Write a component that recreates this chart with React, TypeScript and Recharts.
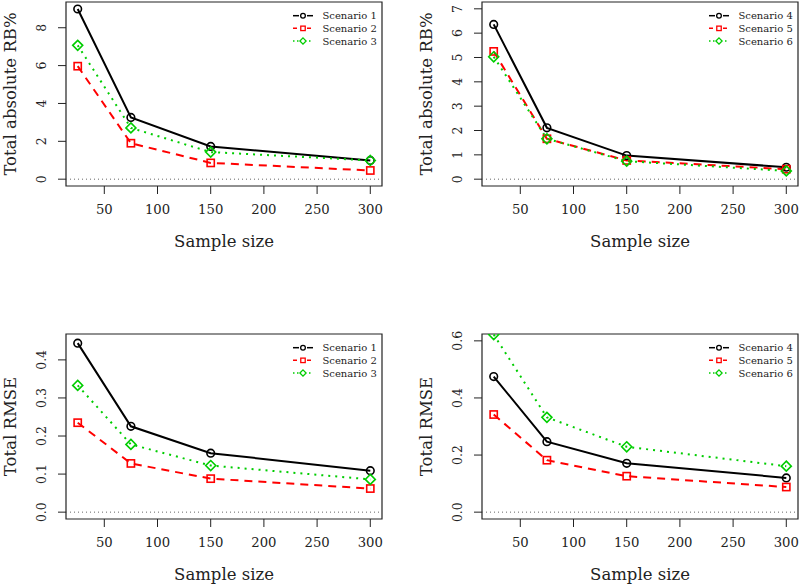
import React from 'react';
import { LineChart, Line, XAxis, YAxis, ReferenceLine, ReferenceArea, Legend } from 'recharts';

const FONT = "'DejaVu Serif', serif";
const INK = '#222';

// ---- data ----
const sampleSizes = [25, 75, 150, 300];
const xTicks = [50, 100, 150, 200, 250, 300];

const namesLeft = ['Scenario 1', 'Scenario 2', 'Scenario 3'];
const namesRight = ['Scenario 4', 'Scenario 5', 'Scenario 6'];

const rbScenario1 = [8.99, 3.26, 1.73, 0.99];
const rbScenario2 = [5.97, 1.9, 0.86, 0.46];
const rbScenario3 = [7.07, 2.71, 1.43, 0.99];
const rbScenario4 = [6.36, 2.11, 0.97, 0.49];
const rbScenario5 = [5.25, 1.66, 0.77, 0.41];
const rbScenario6 = [5.03, 1.66, 0.74, 0.34];

const rmseScenario1 = [0.444, 0.2255, 0.155, 0.109];
const rmseScenario2 = [0.235, 0.128, 0.088, 0.062];
const rmseScenario3 = [0.333, 0.178, 0.1225, 0.086];
const rmseScenario4 = [0.475, 0.247, 0.171, 0.12];
const rmseScenario5 = [0.342, 0.182, 0.126, 0.088];
const rmseScenario6 = [0.622, 0.332, 0.229, 0.161];

const rbTicksLeft = [0, 2, 4, 6, 8];
const rbTicksRight = [0, 1, 2, 3, 4, 5, 6, 7];
const rmseTicksLeft = [0, 0.1, 0.2, 0.3, 0.4];
const rmseTicksRight = [0, 0.2, 0.4, 0.6];

// ---- styles ----
const seriesStyles = [
  { color: '#000000', dash: undefined as string | undefined, marker: 'circle', legendDash: undefined as string | undefined },
  { color: '#FF0000', dash: '8 6', marker: 'square', legendDash: '4 3' },
  { color: '#00CD00', dash: '2 5', marker: 'diamond', legendDash: '1.5 2.5' },
];

function Marker({ kind, cx, cy, color, scale = 1, sw = 1.6 }: any) {
  if (cx == null || cy == null) return null;
  if (kind === 'circle') {
    return <circle cx={cx} cy={cy} r={3.8 * scale} fill="none" stroke={color} strokeWidth={sw} />;
  }
  if (kind === 'square') {
    const h = 3.6 * scale;
    return <rect x={cx - h} y={cy - h} width={2 * h} height={2 * h} fill="none" stroke={color} strokeWidth={sw} />;
  }
  const d = 5 * scale;
  return (
    <polygon
      points={`${cx},${cy - d} ${cx + d},${cy} ${cx},${cy + d} ${cx - d},${cy}`}
      fill="none"
      stroke={color}
      strokeWidth={sw}
    />
  );
}

function RotTick(props: any) {
  const { x, y, payload, fmt } = props;
  return (
    <text
      x={0}
      y={0}
      transform={`translate(${x},${y}) rotate(-90)`}
      textAnchor="middle"
      fontSize={12.5}
      fill={INK}
      fontFamily={FONT}
    >
      {fmt(payload.value)}
    </text>
  );
}

function LegendBox({ names }: { names: string[] }) {
  return (
    <svg width={112} height={42} style={{ display: 'block', overflow: 'visible' }}>
      {names.map((name, i) => {
        const st = seriesStyles[i];
        const cy = 7.7 + i * 12.65;
        return (
          <g key={name}>
            <line x1={5} x2={25} y1={cy} y2={cy} stroke={st.color} strokeWidth={1.5} strokeDasharray={st.legendDash} />
            <rect x={11} y={cy - 4} width={8} height={8} fill="#fff" />
            <Marker kind={st.marker} cx={15} cy={cy} color={st.color} scale={0.62} sw={1.3} />
            <text x={34.5} y={cy + 3.6} fontSize={10} fill={INK} fontFamily={FONT}>
              {name}
            </text>
          </g>
        );
      })}
    </svg>
  );
}

function Panel(p: any) {
  const data = sampleSizes.map((n, i) => {
    const row: any = { n };
    p.series.forEach((s: number[], j: number) => {
      row['s' + j] = s[i];
    });
    return row;
  });
  return (
    <div style={{ position: 'absolute', left: p.left, top: p.top }}>
      <LineChart
        width={p.width}
        height={p.height}
        data={data}
        margin={{ top: p.mTop, right: p.mRight, bottom: p.mBottom, left: 0 }}
      >
        <XAxis
          dataKey="n"
          type="number"
          domain={[14, 311]}
          ticks={xTicks}
          allowDataOverflow
          tickSize={8}
          tickMargin={11}
          axisLine={false}
          tickLine={{ stroke: INK }}
          tick={{ fill: INK, fontSize: 13.2, fontFamily: FONT }}
          height={62}
          label={{
            content: (lp: any) => {
              const vb = lp.viewBox || {};
              return (
                <text
                  x={vb.x + vb.width / 2}
                  y={vb.y + 61}
                  textAnchor="middle"
                  fontSize={16.5}
                  fill={INK}
                  fontFamily={FONT}
                >
                  Sample size
                </text>
              );
            },
          }}
        />
        <YAxis
          type="number"
          domain={p.yDomain}
          ticks={p.yTicks}
          allowDataOverflow
          width={p.yWidth}
          tickSize={8}
          tickMargin={12.5}
          axisLine={false}
          tickLine={{ stroke: INK }}
          tick={<RotTick fmt={p.fmt} />}
          label={{
            content: (lp: any) => {
              const vb = lp.viewBox || {};
              const cx = vb.x + p.yTitleX;
              const cy = vb.y + vb.height / 2;
              return (
                <text
                  x={0}
                  y={0}
                  transform={`translate(${cx},${cy}) rotate(-90)`}
                  textAnchor="middle"
                  fontSize={16.5}
                  fill={INK}
                  fontFamily={FONT}
                >
                  {p.yLabel}
                </text>
              );
            },
          }}
        />
        <ReferenceLine y={0} stroke="#666" strokeDasharray="1 3" strokeWidth={1} />
        <ReferenceArea
          x1={14}
          x2={311}
          y1={p.yDomain[0]}
          y2={p.yDomain[1]}
          fill="none"
          fillOpacity={0}
          stroke={INK}
          strokeWidth={1.2}
          ifOverflow="extendDomain"
        />
        {p.series.map((_: number[], j: number) => {
          const st = seriesStyles[j];
          return (
            <Line
              key={j}
              type="linear"
              dataKey={'s' + j}
              name={p.names[j]}
              stroke={st.color}
              strokeWidth={2}
              strokeDasharray={st.dash}
              isAnimationActive={false}
              dot={(dp: any) => (
                <Marker key={`m-${j}-${dp.index}`} kind={st.marker} cx={dp.cx} cy={dp.cy} color={st.color} />
              )}
              activeDot={false}
            />
          );
        })}
        <Legend
          layout="vertical"
          align="center"
          verticalAlign="middle"
          wrapperStyle={{ left: p.legendLeft, top: p.legendTop, width: 112, height: 42 }}
          content={() => <LegendBox names={p.names} />}
        />
      </LineChart>
    </div>
  );
}

const fmtInt = (v: number) => String(v);
const fmt1 = (v: number) => v.toFixed(1);

export default function App() {
  return (
    <div style={{ position: 'absolute', left: 0, top: 0, width: 800, height: 586, background: '#fff', fontFamily: FONT }}>
      <Panel
        left={0}
        top={0}
        width={400}
        height={290}
        mTop={2}
        mRight={18}
        mBottom={42}
        yWidth={66}
        yTitleX={15.5}
        yDomain={[-0.36, 9.36]}
        yTicks={rbTicksLeft}
        fmt={fmtInt}
        yLabel="Total absolute RB%"
        names={namesLeft}
        series={[rbScenario1, rbScenario2, rbScenario3]}
        legendLeft={288}
        legendTop={8}
      />
      <Panel
        left={400}
        top={0}
        width={400}
        height={290}
        mTop={2}
        mRight={2}
        mBottom={42}
        yWidth={82}
        yTitleX={31.5}
        yDomain={[-0.28, 7.28]}
        yTicks={rbTicksRight}
        fmt={fmtInt}
        yLabel="Total absolute RB%"
        names={namesRight}
        series={[rbScenario4, rbScenario5, rbScenario6]}
        legendLeft={304}
        legendTop={8}
      />
      <Panel
        left={0}
        top={290}
        width={400}
        height={296}
        mTop={44}
        mRight={18}
        mBottom={5}
        yWidth={66}
        yTitleX={15.5}
        yDomain={[-0.018, 0.468]}
        yTicks={rmseTicksLeft}
        fmt={fmt1}
        yLabel="Total RMSE"
        names={namesLeft}
        series={[rmseScenario1, rmseScenario2, rmseScenario3]}
        legendLeft={288}
        legendTop={50}
      />
      <Panel
        left={400}
        top={290}
        width={400}
        height={296}
        mTop={44}
        mRight={2}
        mBottom={5}
        yWidth={82}
        yTitleX={31.5}
        yDomain={[-0.024, 0.624]}
        yTicks={rmseTicksRight}
        fmt={fmt1}
        yLabel="Total RMSE"
        names={namesRight}
        series={[rmseScenario4, rmseScenario5, rmseScenario6]}
        legendLeft={304}
        legendTop={50}
      />
    </div>
  );
}
